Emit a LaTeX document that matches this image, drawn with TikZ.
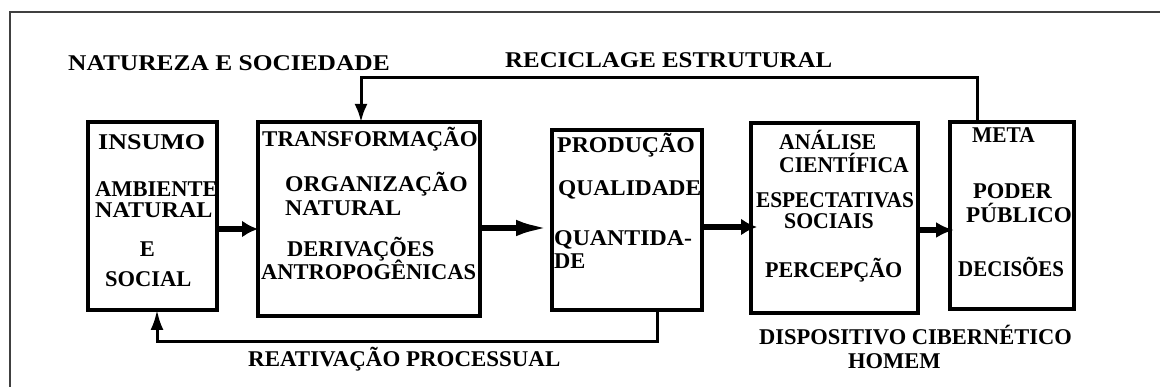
\documentclass[tikz,border=0pt]{standalone}
\usepackage{fontspec}
\setmainfont{Liberation Serif}
\usetikzlibrary{arrows.meta,calc}
\newcommand{\hs}[2]{\scalebox{#1}[1]{#2}}
\begin{document}
\begin{tikzpicture}[x=1pt,y=-1pt,
  lbl/.style={anchor=base west, inner sep=0pt, text depth=0pt, font=\bfseries\fontsize{22.5}{27}\selectfont},
  lblc/.style={lbl, anchor=base},
  boxnode/.style={draw=black, line width=3.5pt, inner sep=0pt, outer sep=0pt, rectangle},
  feed/.style={draw=black, line width=3pt},
  flow/.style={draw=black, line width=6.5pt, -{Latex[length=16pt,width=17pt]}},
  frameline/.style={draw=black!75, line width=1.3pt}
]
\useasboundingbox (0,0) rectangle (1160,387);
\fill[white] (0,0) rectangle (1160,387);
% outer frame
\draw[frameline] (10,387) -- (10,12) -- (1160,12);

% titles
\node[lbl] (tNat) at (68,71) {\hs{1.13}{NATUREZA E SOCIEDADE}};
\node[lbl] (tRec) at (505,67.5) {\hs{1.106}{RECICLAGE ESTRUTURAL}};
\node[lbl] (tRea) at (248,367) {\hs{1.02}{REATIVAÇÃO PROCESSUAL}};
\node[lbl] (tDis) at (759,345) {DISPOSITIVO CIBERNÉTICO};
\node[lbl] (tHom) at (848,369) {HOMEM};

% INSUMO texts
\node[lbl] (i1) at (98,150) {\hs{1.157}{INSUMO}};
\node[lbl] (i2) at (95,196.5) {AMBIENTE};
\node[lbl] (i3) at (95,217.5) {\hs{1.07}{NATURAL}};
\node[lblc] (i4) at (147.5,256.5) {E};
\node[lbl] (i5) at (105,286.5) {SOCIAL};

% TRANSFORMACAO texts
\node[lbl] (r1) at (262,147) {\hs{1.02}{TRANSFORMAÇÃO}};
\node[lbl] (r2) at (285,192) {\hs{1.05}{ORGANIZAÇÃO}};
\node[lbl] (r3) at (285,215.5) {\hs{1.06}{NATURAL}};
\node[lbl] (r4) at (287,257) {DERIVAÇÕES};
\node[lbl] (r5) at (261,280) {ANTROPOGÊNICAS};

% PRODUCAO texts
\node[lbl] (p1) at (557,153) {\hs{1.06}{PRODUÇÃO}};
\node[lbl] (p2) at (558,196) {\hs{1.04}{QUALIDADE}};
\node[lbl] (p3) at (554,246) {\hs{1.06}{QUANTIDA-}};
\node[lbl] (p4) at (554,269) {DE};

% ANALISE texts
\node[lbl] (a1) at (779,150) {\hs{0.97}{ANÁLISE}};
\node[lbl] (a2) at (779,173) {\hs{0.96}{CIENTÍFICA}};
\node[lblc, align=center, font=\bfseries\fontsize{22.5}{21}\selectfont] (a3) at (835,228.5)
  {\hs{0.95}{ESPECTATIVAS}\\\hs{0.97}{SOCIAIS}\hspace*{12pt}};
\node[lbl] (a5) at (765,278) {\hs{0.98}{PERCEPÇÃO}};

% META texts
\node[lbl] (m1) at (972,143) {\hs{0.95}{META}};
\node[lbl] (m2) at (973,199) {PODER};
\node[lbl] (m3) at (966,223) {\hs{1.03}{PÚBLICO}};
\node[lbl] (m4) at (958,277) {\hs{0.93}{DECISÕES}};

% boxes
\node[boxnode, minimum width=129pt, minimum height=188pt] (insumo) at (152.5,216) {};
\node[boxnode, minimum width=222pt, minimum height=194pt] (transf) at (369,219) {};
\node[boxnode, minimum width=150pt, minimum height=180pt] (prod) at (627,220) {};
\node[boxnode, minimum width=167pt, minimum height=190pt] (analise) at (834.5,218) {};
\node[boxnode, minimum width=124pt, minimum height=187pt] (meta) at (1012,215.5) {};

% flow arrows
\coordinate (y1) at (0,229);
\coordinate (y2) at (0,228);
\coordinate (y3) at (0,227);
\coordinate (y4) at (0,230);
\draw[flow] (insumo.east |- y1) -- (transf.west |- y1);
\draw[flow, -{Latex[length=36pt,width=16pt]}] (transf.east |- y2) -- (prod.west |- y2);
\draw[flow] (prod.east |- y3) -- ($(analise.west |- y3)+(6,0)$);
\draw[flow, -{Latex[length=18pt,width=16pt]}] (analise.east |- y4) -- ($(meta.west |- y4)+(4,0)$);

% feedback loops
\coordinate (t1) at (977,78);
\coordinate (t2) at (361,78);
\draw[feed, -{Latex[length=18pt,width=13pt]}] (meta.north -| t1) -- (t1) -- (t2) -- (transf.north -| t2);
\coordinate (b1) at (657,342);
\coordinate (b2) at (157,342);
\draw[feed, -{Latex[length=20pt,width=13pt]}] (prod.south -| b1) -- (b1) -- (b2) -- (insumo.south -| b2);
\end{tikzpicture}
\end{document}
